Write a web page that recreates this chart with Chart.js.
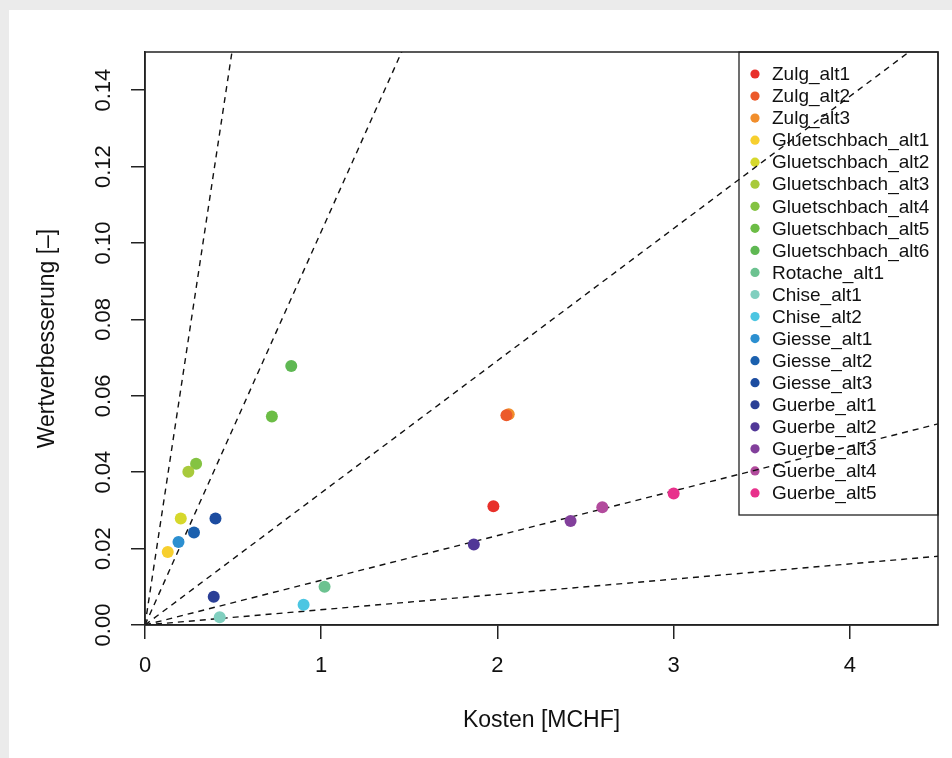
<!DOCTYPE html>
<html>
<head>
<meta charset="utf-8">
<script src="https://cdn.jsdelivr.net/npm/chart.js@4"></script>
<style>
  html, body { margin: 0; padding: 0; background: #ebebeb; }
  #wrap { position: absolute; left: 9px; top: 10px; width: 943px; height: 748px; background: #fff; }
  canvas { display: block; }
</style>
</head>
<body>
<div id="wrap"><canvas id="chart" width="943" height="748"></canvas></div>
<script>
// alternatives, costs [MCHF] and value improvement [-]
const alternatives = [
  'Zulg_alt1', 'Zulg_alt2', 'Zulg_alt3',
  'Gluetschbach_alt1', 'Gluetschbach_alt2', 'Gluetschbach_alt3',
  'Gluetschbach_alt4', 'Gluetschbach_alt5', 'Gluetschbach_alt6',
  'Rotache_alt1', 'Chise_alt1', 'Chise_alt2',
  'Giesse_alt1', 'Giesse_alt2', 'Giesse_alt3',
  'Guerbe_alt1', 'Guerbe_alt2', 'Guerbe_alt3', 'Guerbe_alt4', 'Guerbe_alt5'
];
const kosten = [
  1.977, 2.051, 2.064,
  0.129, 0.203, 0.246,
  0.29, 0.72, 0.83,
  1.019, 0.424, 0.90,
  0.19, 0.278, 0.40,
  0.39, 1.866, 2.415, 2.595, 3.0
];
const wertverbesserung = [
  0.0311, 0.0549, 0.0552,
  0.0191, 0.0279, 0.0401,
  0.0422, 0.0546, 0.0678,
  0.0100, 0.0020, 0.0053,
  0.0217, 0.0242, 0.0279,
  0.0074, 0.0211, 0.0272, 0.0308, 0.0344
];
const colors = [
  '#e8302a', '#ec5a2b', '#f18e2c',
  '#f7cf2e', '#d6d82c', '#a8ca3c',
  '#84c342', '#6cbd46', '#5fb853',
  '#6cc290', '#80cfbf', '#4cc6e2',
  '#2c8fd0', '#1b60ae', '#1c4ca0',
  '#2b3f96', '#513797', '#823f9b', '#b24b9d', '#e8318c'
];
// reference lines through the origin (value / cost ratios)
const slopes = [0.304, 0.103, 0.0346, 0.0117, 0.004];
const xMax = 4.5;
const yMax = 0.15;

const FONT = "'Liberation Sans', Arial, sans-serif";
const INK = '#111';

const datasets = alternatives.map((name, i) => ({
  label: name,
  data: [{ x: kosten[i], y: wertverbesserung[i] }],
  backgroundColor: colors[i],
  borderWidth: 0,
  pointRadius: 6,
  pointHoverRadius: 6
}));

slopes.forEach(s => {
  datasets.push({
    refLine: true,
    data: [{ x: 0, y: 0 }, { x: xMax, y: s * xMax }],
    showLine: true,
    borderColor: '#111',
    borderWidth: 1.4,
    borderDash: [6, 5],
    pointRadius: 0,
    pointHoverRadius: 0
  });
});

// box around the plot and the legend inside it
const framePlugin = {
  id: 'frame',
  beforeDatasetsDraw(chart) {
    const { ctx, chartArea: a } = chart;
    const boxL = a.right - 199, boxT = a.top, boxH = 463;
    ctx.save();
    ctx.strokeStyle = '#222';
    ctx.lineWidth = 1.3;
    ctx.strokeRect(boxL, boxT, a.right - boxL, boxH);
    ctx.font = '19px ' + FONT;
    ctx.textBaseline = 'middle';
    ctx.textAlign = 'left';
    let row = 0;
    chart.data.datasets.forEach(ds => {
      if (ds.refLine) return;
      const y = boxT + 22 + row * 22.05;
      ctx.fillStyle = ds.backgroundColor;
      ctx.beginPath();
      ctx.arc(a.right - 183, y, 4.6, 0, Math.PI * 2);
      ctx.fill();
      ctx.fillStyle = INK;
      ctx.fillText(ds.label, a.right - 166, y + 1);
      row++;
    });
    ctx.restore();
  },
  afterDraw(chart) {
    const { ctx, chartArea: a } = chart;
    ctx.save();
    ctx.strokeStyle = '#222';
    ctx.lineWidth = 1.5;
    ctx.strokeRect(a.left, a.top, a.right - a.left, a.bottom - a.top);
    ctx.restore();
  }
};

new Chart(document.getElementById('chart'), {
  type: 'scatter',
  data: { datasets },
  plugins: [framePlugin],
  options: {
    responsive: false,
    animation: false,
    layout: { padding: { left: 0, top: 42, right: 14, bottom: 0 } },
    plugins: { legend: { display: false }, tooltip: { enabled: false } },
    scales: {
      x: {
        type: 'linear',
        min: 0,
        max: xMax,
        afterFit: s => { s.height = 133; },
        border: { display: true, color: '#222', width: 1.5 },
        grid: { drawOnChartArea: false, drawTicks: true, tickLength: 14, color: '#222', lineWidth: 1.5 },
        ticks: {
          stepSize: 1,
          includeBounds: false,
          padding: 14,
          color: INK,
          font: { family: FONT, size: 22 },
          maxRotation: 0,
          callback: v => String(v)
        },
        title: {
          display: true,
          text: 'Kosten [MCHF]',
          color: INK,
          font: { family: FONT, size: 23 },
          padding: { top: 0, bottom: 24 }
        }
      },
      y: {
        type: 'linear',
        min: 0,
        max: yMax,
        afterFit: s => { s.width = 136; },
        border: { display: true, color: '#222', width: 1.5 },
        grid: { drawOnChartArea: false, drawTicks: true, tickLength: 14, color: '#222', lineWidth: 1.5 },
        ticks: {
          stepSize: 0.02,
          includeBounds: false,
          autoSkip: false,
          minRotation: 90,
          maxRotation: 90,
          crossAlign: 'center',
          padding: 5.5,
          color: INK,
          font: { family: FONT, size: 22 },
          callback: v => v.toFixed(2)
        },
        title: {
          display: true,
          text: 'Wertverbesserung [–]',
          color: INK,
          font: { family: FONT, size: 23 },
          padding: { top: 25, bottom: 0 }
        }
      }
    }
  }
});
</script>
</body>
</html>
